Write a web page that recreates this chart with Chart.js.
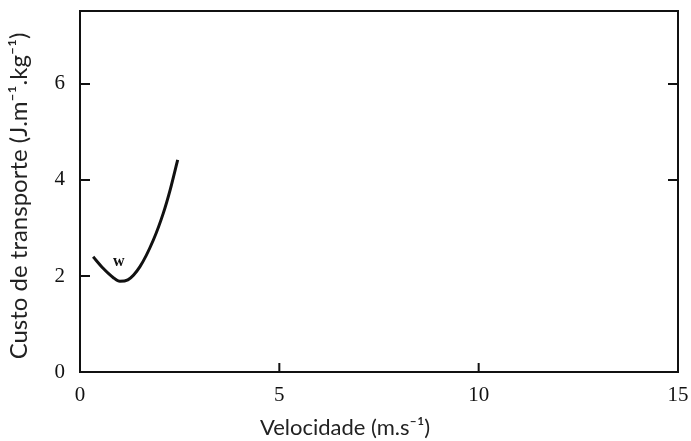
<!DOCTYPE html>
<html>
<head>
<meta charset="utf-8">
<script src="https://cdn.jsdelivr.net/npm/chart.js@4.4.0/dist/chart.umd.min.js"></script>
<style>
  html, body { margin: 0; padding: 0; background: #fff; }
  #wrap { width: 691px; height: 441px; }
</style>
</head>
<body>
<div id="wrap"><canvas id="chart" width="691" height="441"></canvas></div>
<script>
// curve W
const velocidade = [0.33, 0.58, 0.83, 1.0, 1.2, 1.5, 1.84, 2.09, 2.26, 2.45];
const custo      = [2.40, 2.16, 1.97, 1.89, 1.92, 2.19, 2.75, 3.31, 3.79, 4.42];
const curveLabel = "w";
const labelPos = [0.97, 2.3];

const xTicks = [0, 5, 10, 15];
const yTicks = [0, 2, 4, 6];
const xTitle = "Velocidade (m.s\u207B\u00B9)";
const yTitle = "Custo de transporte (J.m\u207B\u00B9.kg\u207B\u00B9)";

const serif = "'Liberation Serif', 'DejaVu Serif', serif";
const sans = "Lato, 'Open Sans', sans-serif";

// frame, inward ticks, curve label and axis titles
const decorations = {
    id: 'decorations',
    afterDraw(chart)
    {
        let ctx = chart.ctx;
        let a = chart.chartArea;
        let x = chart.scales.x;
        let y = chart.scales.y;
        ctx.save();
        ctx.strokeStyle = "#111";
        ctx.lineWidth = 2;
        ctx.strokeRect(a.left, a.top, a.right - a.left, a.bottom - a.top);

        ctx.beginPath();
        [2, 4, 6].forEach(v => {
            let py = y.getPixelForValue(v);
            ctx.moveTo(a.left, py); ctx.lineTo(a.left + 10, py);
        });
        [4, 6].forEach(v => {
            let py = y.getPixelForValue(v);
            ctx.moveTo(a.right, py); ctx.lineTo(a.right - 10, py);
        });
        [5, 10].forEach(v => {
            let px = x.getPixelForValue(v);
            ctx.moveTo(px, a.bottom); ctx.lineTo(px, a.bottom - 9);
        });
        ctx.stroke();

        ctx.fillStyle = "#111";
        ctx.font = "bold 16px " + serif;
        ctx.textAlign = "center";
        ctx.textBaseline = "middle";
        ctx.fillText(curveLabel, x.getPixelForValue(labelPos[0]), y.getPixelForValue(labelPos[1]));

        ctx.fillStyle = "#222";
        ctx.font = "22px " + sans;
        ctx.fillText(xTitle, 345, 428);
        ctx.font = "24px " + sans;
        ctx.translate(19, 196);
        ctx.rotate(-Math.PI / 2);
        ctx.fillText(yTitle, 0, 0);
        ctx.restore();
    }
};

let chartElement = document.getElementById('chart').getContext('2d');

let lineChart = new Chart(chartElement,
    {
        type: 'line',
        data:
            {
                datasets:
                    [
                        {
                            label: curveLabel,
                            data: velocidade.map((v, i) => ({ x: v, y: custo[i] })),
                            borderColor: '#111',
                            borderWidth: 3,
                            pointRadius: 0,
                            fill: false,
                            cubicInterpolationMode: 'monotone'
                        }
                    ]
            },
        options:
            {
                responsive: false,
                animation: false,
                layout: { autoPadding: false, padding: { top: 11, right: 13, left: 0, bottom: 0 } },
                plugins:
                    {
                        legend: { display: false },
                        tooltip: { enabled: false }
                    },
                scales:
                    {
                        x:
                            {
                                type: 'linear',
                                min: 0,
                                max: 15,
                                afterBuildTicks: s => { s.ticks = xTicks.map(v => ({ value: v })); },
                                afterFit: s => { s.height = 69; s.paddingLeft = 0; s.paddingRight = 0; },
                                grid: { display: false, drawTicks: false },
                                border: { display: false },
                                ticks: { color: '#111', padding: 11, font: { family: serif, size: 21 } }
                            },
                        y:
                            {
                                type: 'linear',
                                min: 0,
                                max: 7.52,
                                afterBuildTicks: s => { s.ticks = yTicks.map(v => ({ value: v })); },
                                afterFit: s => { s.width = 80; s.paddingTop = 0; s.paddingBottom = 0; },
                                grid: { display: false, drawTicks: false },
                                border: { display: false },
                                ticks: { color: '#111', padding: 15, font: { family: serif, size: 21 } }
                            }
                    }
            },
        plugins: [decorations]
    });
</script>
</body>
</html>
